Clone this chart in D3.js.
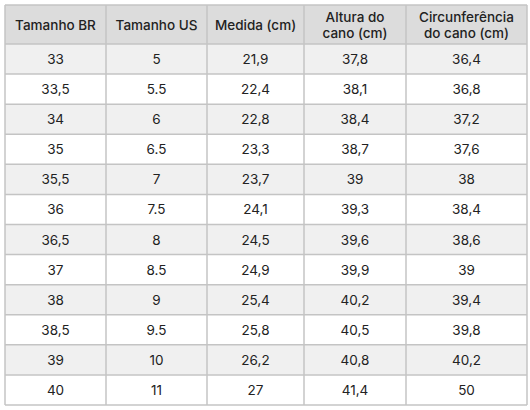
<!DOCTYPE html>
<html><head><meta charset="utf-8">
<script src="https://cdn.jsdelivr.net/npm/d3@7"></script>
<style>body{margin:0;background:#fff}</style>
</head><body>
<svg id="chart" width="530" height="410"></svg>
<script>
const headers = [["Tamanho BR"], ["Tamanho US"], ["Medida (cm)"], ["Altura do", "cano (cm)"], ["Circunferência", "do cano (cm)"]];
const tamanhoBR = ["33", "33,5", "34", "35", "35,5", "36", "36,5", "37", "38", "38,5", "39", "40"];
const tamanhoUS = ["5", "5.5", "6", "6.5", "7", "7.5", "8", "8.5", "9", "9.5", "10", "11"];
const medida = ["21,9", "22,4", "22,8", "23,3", "23,7", "24,1", "24,5", "24,9", "25,4", "25,8", "26,2", "27"];
const altura = ["37,8", "38,1", "38,4", "38,7", "39", "39,3", "39,6", "39,9", "40,2", "40,5", "40,8", "41,4"];
const circunferencia = ["36,4", "36,8", "37,2", "37,6", "38", "38,4", "38,6", "39", "39,4", "39,8", "40,2", "50"];

const columns = [tamanhoBR, tamanhoUS, medida, altura, circunferencia];
const colEdges = [5, 106, 207, 304, 406, 527];
const tableTop = 5, headH = 39, tableBottom = 405;
const rowH = (tableBottom - tableTop - headH) / tamanhoBR.length;

const svg = d3.select("#chart");
const font = "Inter, 'Noto Sans', sans-serif";

// header background
svg.append("rect").attr("x", colEdges[0]).attr("y", tableTop)
	.attr("width", colEdges[5] - colEdges[0]).attr("height", headH).attr("fill", "#dcdcdc");

// row stripes
svg.selectAll(".stripe").data(tamanhoBR).enter().append("rect")
	.attr("x", colEdges[0]).attr("y", (d, i) => tableTop + headH + i * rowH)
	.attr("width", colEdges[5] - colEdges[0]).attr("height", rowH)
	.attr("fill", (d, i) => i % 2 == 0 ? "#f0f0f0" : "#ffffff");

// grid lines
const lineColor = "#c4c4c4";
colEdges.forEach(x => {
	svg.append("line").attr("x1", x).attr("x2", x).attr("y1", tableTop).attr("y2", tableBottom)
		.attr("stroke", lineColor).attr("stroke-width", 1.5);
});
d3.range(tamanhoBR.length + 1).forEach(i => {
	var y = i == 0 ? tableTop : tableTop + headH + (i - 1) * rowH;
	svg.append("line").attr("x1", colEdges[0]).attr("x2", colEdges[5]).attr("y1", y).attr("y2", y)
		.attr("stroke", lineColor).attr("stroke-width", 1.5);
});
svg.append("line").attr("x1", colEdges[0]).attr("x2", colEdges[5]).attr("y1", tableBottom).attr("y2", tableBottom)
	.attr("stroke", lineColor).attr("stroke-width", 1.5);

// header text
headers.forEach((lines, c) => {
	var cx = (colEdges[c] + colEdges[c + 1]) / 2;
	var t = svg.append("text").attr("x", cx).attr("text-anchor", "middle")
		.attr("font-family", font).attr("font-size", 13.5).attr("font-weight", 500).attr("fill", "#222");
	var y0 = tableTop + headH / 2 - (lines.length - 1) * 8 + 5;
	lines.forEach((l, k) => {
		t.append("tspan").attr("x", cx).attr("y", y0 + k * 16).text(l);
	});
});

// body text
columns.forEach((col, c) => {
	var cx = (colEdges[c] + colEdges[c + 1]) / 2;
	svg.selectAll(".cell" + c).data(col).enter().append("text")
		.attr("x", cx).attr("y", (d, i) => tableTop + headH + i * rowH + rowH / 2 + 5)
		.attr("text-anchor", "middle").attr("font-family", font).attr("font-size", 13.5)
		.attr("fill", "#222").text(d => d);
});
</script>
</body></html>
